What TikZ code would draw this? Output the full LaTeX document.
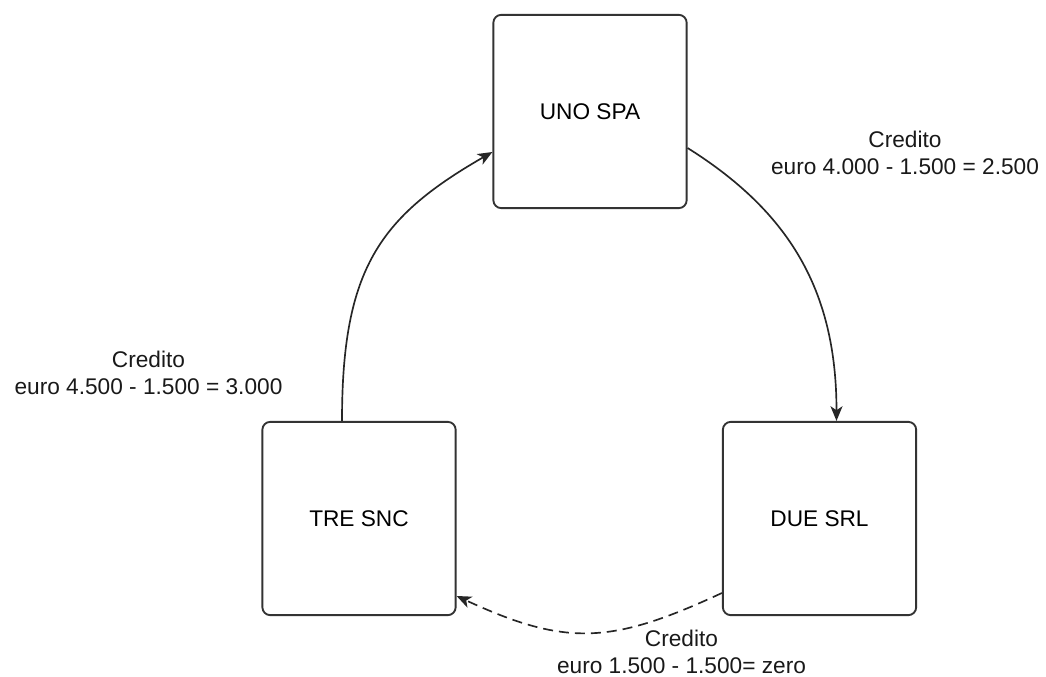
\documentclass[tikz,border=0pt]{standalone}
\usepackage{fontspec}
\setmainfont{Liberation Sans}
\usetikzlibrary{arrows.meta,calc}
\begin{document}
\begin{tikzpicture}[
  x=0.75pt, y=-0.75pt,
  font=\fontsize{17pt}{20.25pt}\selectfont,
  company/.style={draw=black!80, line width=1.4pt, rounded corners=6pt,
    fill=white, minimum width=145pt, minimum height=145pt, inner sep=0pt},
  flow/.style={draw=black!85, line width=1.25pt,
    -{Stealth[length=11pt, width=9pt, inset=3pt]}},
  netted/.style={flow, dash pattern=on 7.5pt off 4.5pt},
  amount/.style={align=center, inner sep=0pt, text=black!90}
]
\useasboundingbox (0,0) rectangle (1046,677);

% the three companies
\node[company] (uno) at (590,111.5) {UNO SPA};
\node[company] (due) at (819.5,518.5) {DUE SRL};
\node[company] (tre) at (359,518.5) {TRE SNC};

% attachment points on the boxes
\coordinate (unoIn)  at ($(uno.west)+(0,40.5)$);
\coordinate (unoOut) at ($(uno.east)+(0,36.5)$);
\coordinate (dueIn)  at ($(due.north)+(17,0)$);
\coordinate (dueOut) at ($(due.west)+(0,74.5)$);
\coordinate (treIn)  at ($(tre.east)+(0,77.5)$);
\coordinate (treOut) at ($(tre.north)+(-17,0)$);

% credits between the companies
\draw[flow] (unoOut) .. controls +(102,64) and +(0,-130) .. (dueIn);
\draw[flow] (treOut) .. controls +(0,-152) and +(-113,65) .. (unoIn);
\draw[netted] (dueOut) .. controls +(-110,51) and +(110,51) .. (treIn);

% amounts
\node[amount] (lab1) at (905,152.5) {Credito\\euro 4.000 - 1.500 = 2.500};
\node[amount] (lab2) at (148.5,372.5) {Credito\\euro 4.500 - 1.500 = 3.000};
\node[amount] (lab3) at (681.5,652) {Credito\\euro 1.500 - 1.500= zero};
\end{tikzpicture}
\end{document}
